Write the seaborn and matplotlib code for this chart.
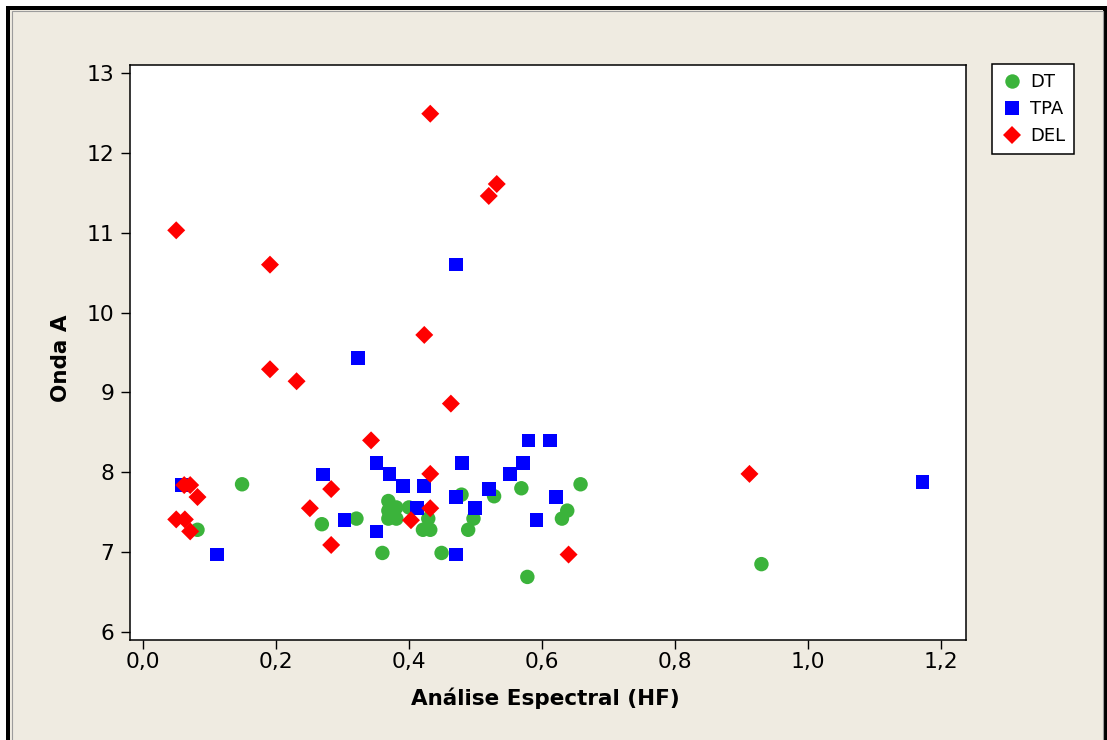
import matplotlib
matplotlib.use("Agg")
import matplotlib.pyplot as plt
from matplotlib.patches import Rectangle
from matplotlib.ticker import FuncFormatter, FixedLocator
import numpy as np
import pandas as pd
import seaborn as sns

# --- data -----------------------------------------------------------------
groups = ["DT", "TPA", "DEL"]

dt_hf = [0.082, 0.149, 0.269, 0.321, 0.360, 0.369, 0.369, 0.381, 0.369, 0.381,
         0.400, 0.429, 0.421, 0.432, 0.449, 0.479, 0.489, 0.497, 0.528, 0.569,
         0.578, 0.630, 0.638, 0.658, 0.930]
dt_onda = [7.28, 7.85, 7.35, 7.42, 6.99, 7.64, 7.52, 7.56, 7.42, 7.42,
           7.56, 7.42, 7.28, 7.28, 6.99, 7.72, 7.28, 7.42, 7.70, 7.80,
           6.69, 7.42, 7.52, 7.85, 6.85]

tpa_hf = [0.058, 0.111, 0.271, 0.303, 0.323, 0.351, 0.351, 0.371, 0.391, 0.412,
          0.423, 0.471, 0.471, 0.471, 0.480, 0.499, 0.520, 0.552, 0.571, 0.580,
          0.592, 0.612, 0.621, 1.172]
tpa_onda = [7.84, 6.97, 7.97, 7.40, 9.43, 8.12, 7.26, 7.98, 7.83, 7.55,
            7.83, 10.60, 7.69, 6.97, 8.12, 7.55, 7.79, 7.98, 8.12, 8.40,
            7.40, 8.40, 7.69, 7.88]

del_hf = [0.050, 0.050, 0.062, 0.063, 0.071, 0.071, 0.082, 0.191, 0.191, 0.231,
          0.251, 0.283, 0.283, 0.343, 0.403, 0.423, 0.432, 0.432, 0.432, 0.463,
          0.520, 0.532, 0.640, 0.912]
del_onda = [11.03, 7.41, 7.84, 7.41, 7.84, 7.26, 7.69, 10.60, 9.29, 9.14,
            7.55, 7.79, 7.09, 8.40, 7.40, 9.72, 12.49, 7.98, 7.55, 8.86,
            11.46, 11.61, 6.97, 7.98]

x_ticks = [0.0, 0.2, 0.4, 0.6, 0.8, 1.0, 1.2]
y_ticks = [6, 7, 8, 9, 10, 11, 12, 13]

df = pd.concat([
    pd.DataFrame({"hf": dt_hf, "onda": dt_onda, "grupo": "DT"}),
    pd.DataFrame({"hf": tpa_hf, "onda": tpa_onda, "grupo": "TPA"}),
    pd.DataFrame({"hf": del_hf, "onda": del_onda, "grupo": "DEL"}),
], ignore_index=True)

# --- style ----------------------------------------------------------------
sns.set_style("white")
plt.rcParams["font.family"] = ["DejaVu Sans"]
plt.rcParams["text.color"] = "black"
plt.rcParams["legend.labelcolor"] = "black"

W, H = 1107, 740
fig = plt.figure(figsize=(W / 100, H / 100), dpi=100, facecolor="white")

# window-like frame around the chart
bg = "#EFEBE1"
fig.patches.append(Rectangle((6 / W, -0.1), 1.2, 1.1 - 6 / H, transform=fig.transFigure,
                             facecolor="black", edgecolor="none", zorder=-10))
fig.patches.append(Rectangle((10 / W, -0.1), (1103 - 10) / W, 1.1 - 10 / H,
                             transform=fig.transFigure, facecolor=bg,
                             edgecolor="none", zorder=-9))
fig.patches.append(Rectangle((11.5 / W, -0.1), (1102.5 - 11.5) / W, 1.1 - 11.5 / H,
                             transform=fig.transFigure, facecolor="none",
                             edgecolor="#9C9C9C", linewidth=0.8, zorder=-8))

ax = fig.add_axes([130 / W, 1 - 640 / H, (966 - 130) / W, (640 - 65) / H])
ax.set_facecolor("white")

palette = {"DT": "#3BB33B", "TPA": "#0000FF", "DEL": "#FF0000"}
markers = {"DT": "o", "TPA": "s", "DEL": "D"}
sizes = {"DT": 108, "TPA": 96, "DEL": 84}

sns.scatterplot(data=df, x="hf", y="onda", hue="grupo", style="grupo", size="grupo",
                hue_order=groups, style_order=groups, size_order=groups,
                palette=palette, markers=markers, sizes=sizes,
                linewidth=0, edgecolor="none", alpha=1, ax=ax, legend=True)

ax.set_xlim(-0.0195, 1.2376)
ax.set_ylim(5.9, 13.1)
ax.xaxis.set_major_locator(FixedLocator(x_ticks))
ax.yaxis.set_major_locator(FixedLocator(y_ticks))
ax.xaxis.set_major_formatter(FuncFormatter(lambda v, p: f"{v:.1f}".replace(".", ",")))
ax.yaxis.set_major_formatter(FuncFormatter(lambda v, p: f"{v:.0f}"))
ax.tick_params(axis="both", direction="out", length=6.5, width=1.0, color="black",
               labelsize=15.7, labelcolor="black", bottom=True, left=True)
ax.tick_params(axis="x", pad=2.0)
ax.tick_params(axis="y", pad=5.0)
for s in ax.spines.values():
    s.set_visible(True)
    s.set_color("black")
    s.set_linewidth(1.1)

ax.set_xlabel("")
ax.set_ylabel("")
fig.text(545 / W, 1 - 705 / H, "Análise Espectral (HF)", ha="center", va="baseline",
         fontsize=15.5, fontweight="bold", color="black")
fig.text(67 / W, 1 - 358 / H, "Onda A", rotation=90, rotation_mode="anchor",
         ha="center", va="baseline", fontsize=15.5, fontweight="bold", color="black")

sns.move_legend(ax, "upper left", bbox_to_anchor=(992 / W, 1 - 64 / H),
                bbox_transform=fig.transFigure, title=None, frameon=True,
                fancybox=False, fontsize=13, borderpad=0.5, labelspacing=0.5,
                handletextpad=0.4, handlelength=1.2, borderaxespad=0,
                labelcolor="black")
leg = ax.get_legend()
leg.get_frame().set_edgecolor("black")
leg.get_frame().set_linewidth(1.1)
leg.get_frame().set_facecolor("white")
leg.get_frame().set_alpha(1)

fig.savefig("out.png", dpi=100, facecolor=fig.get_facecolor())
